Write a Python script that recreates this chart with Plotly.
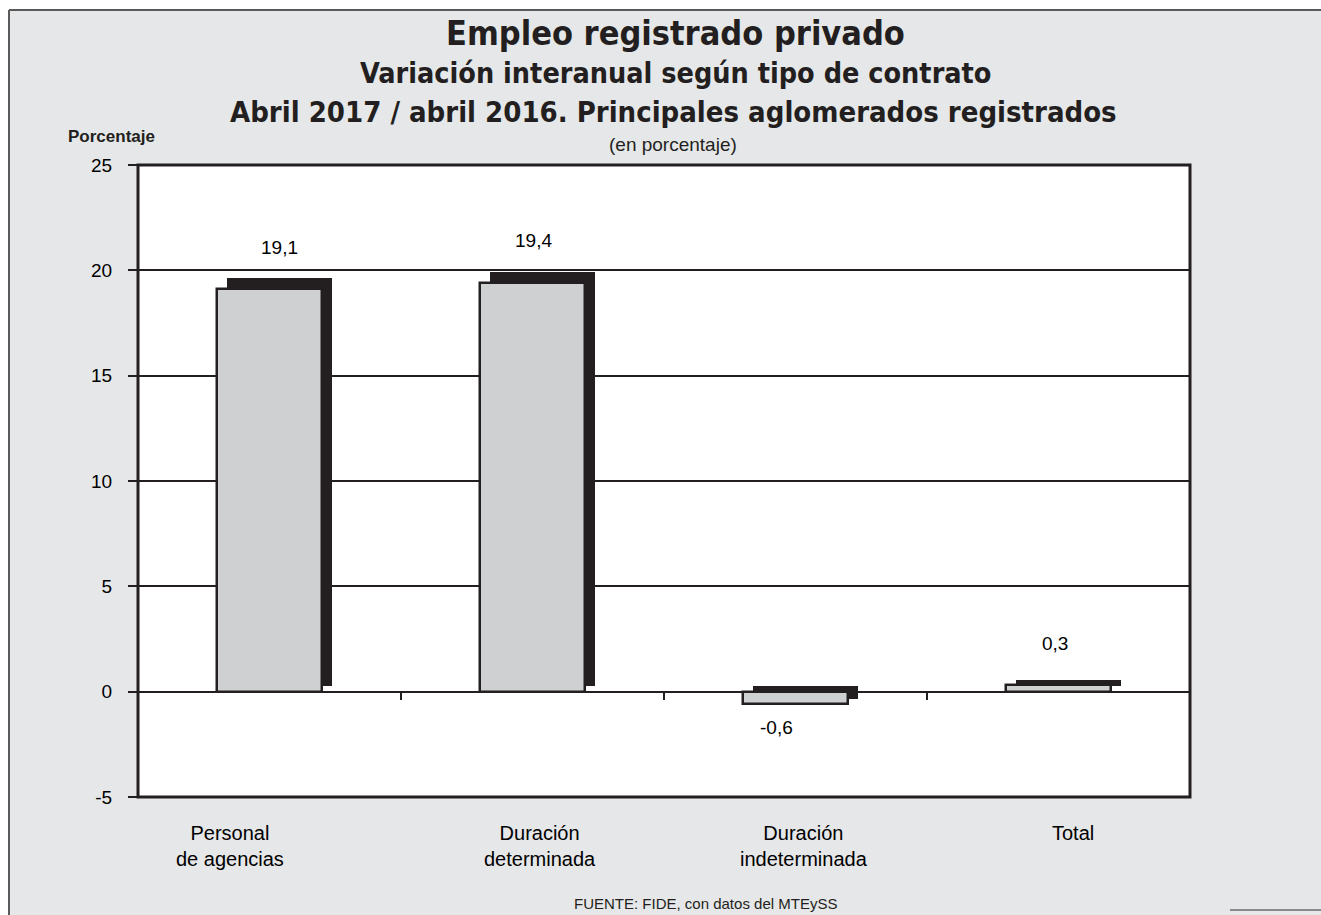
import plotly.graph_objects as go

# Data
categories = ["Personal<br>de agencias", "Duración<br>determinada", "Duración<br>indeterminada", "Total"]
values = [19.1, 19.4, -0.6, 0.3]
value_labels = ["19,1", "19,4", "-0,6", "0,3"]
y_tickvals = [-5, 0, 5, 10, 15, 20, 25]
y_ticktext = ["-5", "0", "5", "10", "15", "20", "25"]

# Layout geometry (pixels)
W, H = 1321, 915
L, R, T, B = 138, 1190, 165, 797

# horizontal nudges for the text under/over each bar
CAT_XSHIFT = [-40, 7, 8, 14]
VAL_XSHIFT = [10, 1, -19, -4]

def px(x):
    return (x - L) / (R - L)

def py(y):
    return (B - y) / (B - T)

DARK = "#231f20"
BAR = "#cfd0d2"
BG = "#e6e7e8"
REG = "Liberation Sans, Arial, sans-serif"
TITLE = "DejaVu Sans Condensed, DejaVu Sans, sans-serif"

idx = list(range(len(values)))

# Drop shadow behind each bar, nudged right and up
sh_dx, sh_dy, sh_k = 0.038, 0.27, 1.013
sh_base, sh_len = [], []
for v in values:
    lo = min(0, v) + sh_dy
    hi = max(0, v) * sh_k + sh_dy
    sh_base.append(lo)
    sh_len.append(hi - lo)

fig = go.Figure()
fig.add_trace(go.Bar(
    x=idx, y=sh_len, base=sh_base, width=0.4, offset=-0.2 + sh_dx,
    marker=dict(color=DARK, line=dict(width=0)), hoverinfo="skip", showlegend=False,
))
fig.add_trace(go.Bar(
    x=idx, y=values, width=0.4,
    marker=dict(color=BAR, line=dict(color=DARK, width=2.5)), showlegend=False,
))

annotations = []
# Value labels
for i, (v, t) in enumerate(zip(values, value_labels)):
    annotations.append(dict(
        x=i, y=v, xref="x", yref="y", text=t, showarrow=False,
        xanchor="center", yanchor="middle", xshift=VAL_XSHIFT[i],
        yshift=42 if v >= 0 else -23, font=dict(family=REG, size=19, color="#000"),
    ))
# Category labels
for i, c in enumerate(categories):
    annotations.append(dict(
        x=i, y=py(820), xref="x", yref="paper", text=c, showarrow=False,
        xanchor="center", yanchor="top", xshift=CAT_XSHIFT[i],
        font=dict(family=REG, size=20, color="#000"),
    ))

# Titles and notes
def note(x, y, text, family, size):
    return dict(x=px(x), y=py(y), xref="paper", yref="paper", showarrow=False,
                xanchor="center", yanchor="middle", text=text,
                font=dict(family=family, size=size, color=DARK))

annotations += [
    note(675, 33, "<b>Empleo registrado privado</b>", TITLE, 34),
    note(675, 74, "<b>Variación interanual según tipo de contrato</b>", TITLE, 28.5),
    note(673, 112, "<b>Abril 2017 / abril 2016. Principales aglomerados registrados</b>", TITLE, 29),
    note(673, 144, "(en porcentaje)", REG, 19),
    note(111, 136, "<b>Porcentaje</b>", REG, 17),
    note(705, 903, "FUENTE: FIDE, con datos del MTEySS", REG, 15),
]

shapes = [
    # white strip above and left of the framed panel
    dict(type="rect", xref="paper", yref="paper", x0=px(0), x1=px(W), y0=py(0), y1=py(10),
         fillcolor="white", line=dict(width=0), layer="below"),
    dict(type="rect", xref="paper", yref="paper", x0=px(0), x1=px(9), y0=py(0), y1=py(H),
         fillcolor="white", line=dict(width=0), layer="below"),
    dict(type="line", xref="paper", yref="paper", x0=px(9), x1=px(W), y0=py(10), y1=py(10),
         line=dict(color="#5a5a5a", width=2)),
    dict(type="line", xref="paper", yref="paper", x0=px(9), x1=px(9), y0=py(10), y1=py(H),
         line=dict(color="#5a5a5a", width=2)),
    dict(type="line", xref="paper", yref="paper", x0=px(1230), x1=px(W), y0=py(910), y1=py(910),
         line=dict(color="#8a8a8a", width=2)),
    # plot frame
    dict(type="rect", xref="paper", yref="paper", x0=0, x1=1, y0=0, y1=1,
         line=dict(color=DARK, width=3)),
]
# category boundary ticks on the zero line
for b in [0.5, 1.5, 2.5]:
    shapes.append(dict(type="line", xref="x", yref="y", x0=b, x1=b, y0=0, y1=-0.4,
                       line=dict(color=DARK, width=2)))

fig.update_layout(
    width=W, height=H,
    margin=dict(l=L, r=W - R, t=T, b=H - B, pad=0),
    paper_bgcolor=BG, plot_bgcolor="white",
    barmode="overlay", bargap=0,
    annotations=annotations, shapes=shapes,
    xaxis=dict(range=[-0.5, 3.5], showticklabels=False, ticks="", showgrid=False,
               zeroline=False, showline=False, fixedrange=True),
    yaxis=dict(range=[-5, 25], tickvals=y_tickvals, ticktext=y_ticktext,
               ticks="outside", ticklen=9, tickwidth=2, tickcolor=DARK,
               ticklabelstandoff=12,
               showgrid=True, gridcolor=DARK, gridwidth=1.6,
               zeroline=True, zerolinecolor=DARK, zerolinewidth=2,
               showline=False, tickfont=dict(family=REG, size=19, color="#000"),
               fixedrange=True),
    font=dict(family=REG),
)

fig.write_html("out.html", config={"displayModeBar": False})
